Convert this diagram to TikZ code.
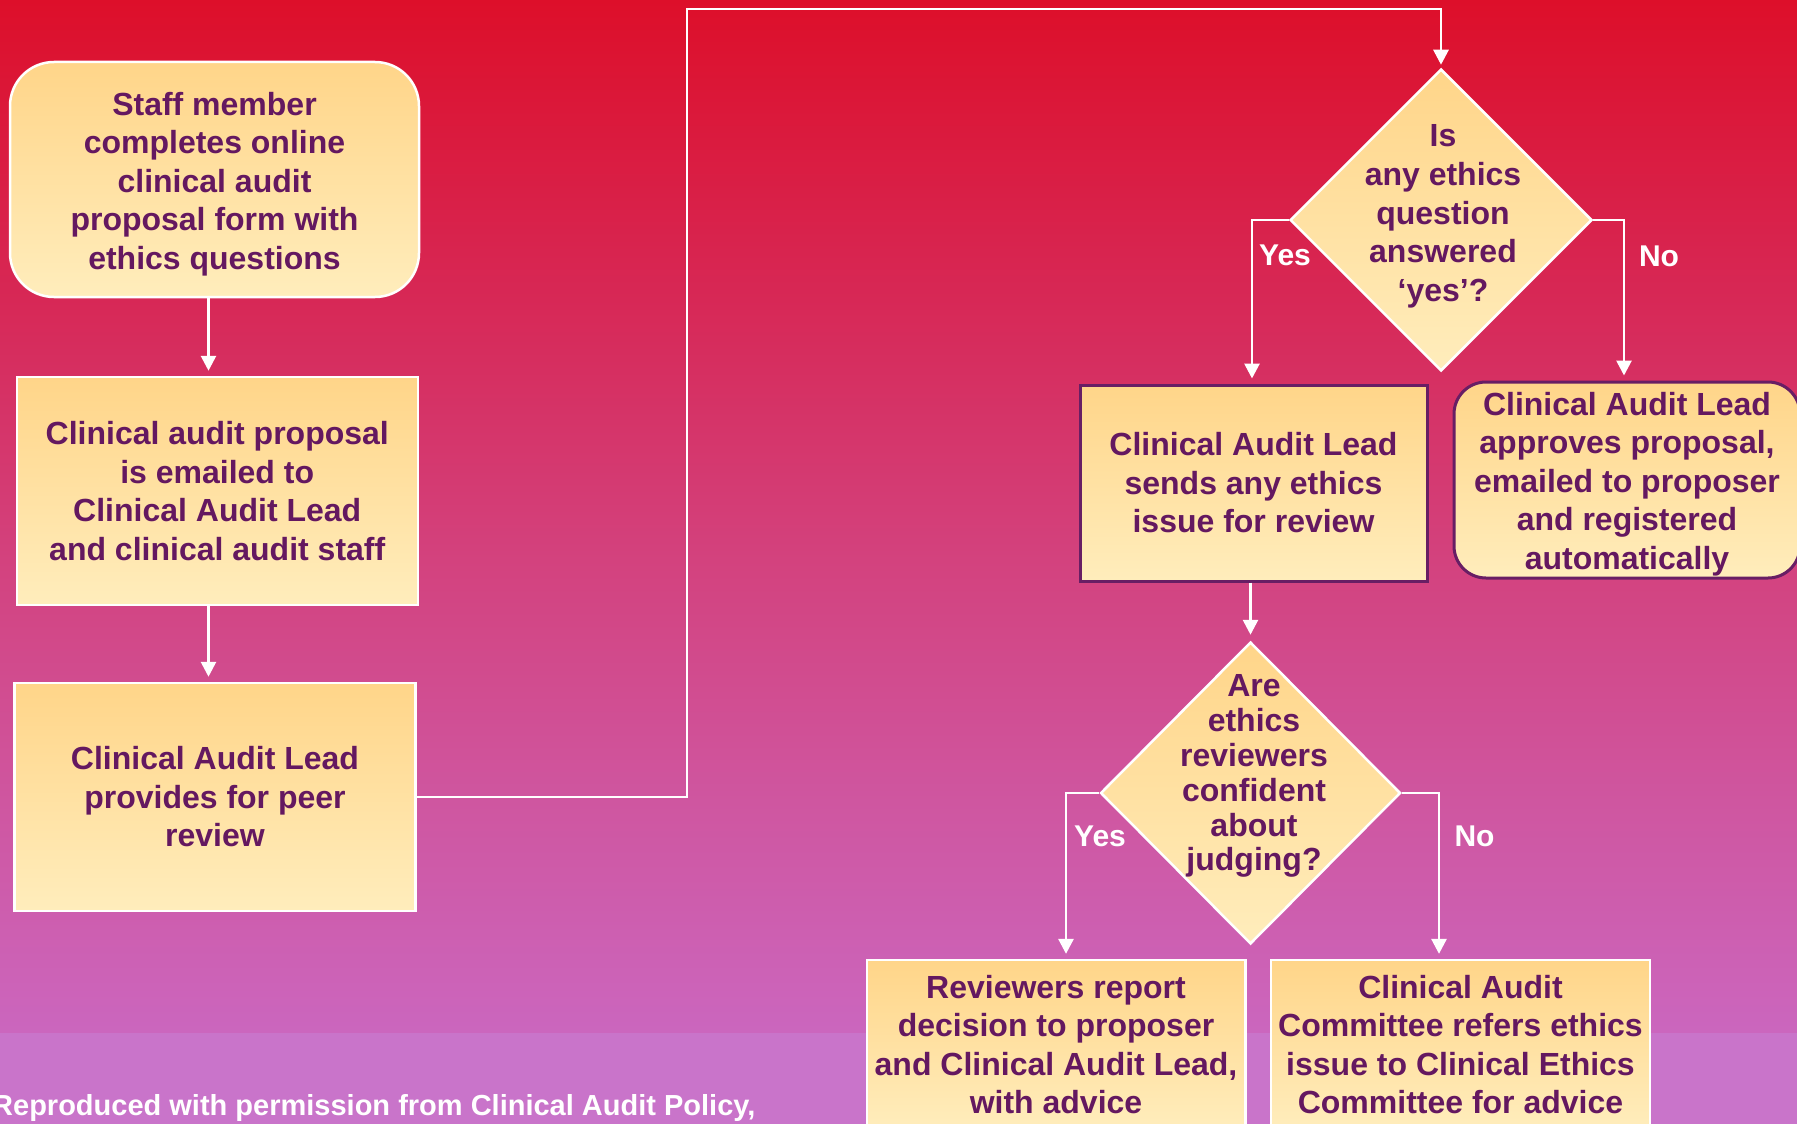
\documentclass[tikz,border=0pt]{standalone}
\usepackage{fontspec}
\setmainfont{Liberation Sans}
\usetikzlibrary{arrows.meta,shapes.geometric,calc}
\definecolor{txt}{RGB}{100,24,96}
\definecolor{purp}{RGB}{104,30,100}
\definecolor{ctop}{RGB}{255,213,137}
\definecolor{cbot}{RGB}{255,237,188}
\definecolor{bgA}{RGB}{221,15,42}
\definecolor{bgB}{RGB}{215,40,86}
\definecolor{bgC}{RGB}{211,66,126}
\definecolor{bgD}{RGB}{207,86,160}
\definecolor{bgE}{RGB}{203,102,190}
\definecolor{band}{RGB}{201,116,202}
% TikZ maps 25bp..75bp of a declared shading onto the path
\pgfdeclareverticalshading{bgshade}{100bp}{color(0bp)=(bgE); color(25bp)=(bgE); color(36.2bp)=(bgD); color(47.9bp)=(bgC); color(60.5bp)=(bgB); color(75bp)=(bgA); color(100bp)=(bgA)}
\tikzset{
  boxw/.style={draw=white, line width=2.5pt, top color=ctop, bottom color=cbot, text=txt,
    font=\fontsize{32}{38.5}\selectfont\bfseries, align=center, inner sep=0pt},
  boxp/.style={boxw, draw=purp, line width=3pt},
  dia/.style={diamond, draw=white, line width=2.5pt, top color=ctop, bottom color=cbot,
    inner sep=0pt, minimum width=302pt, minimum height=302pt},
  diatxt/.style={text=txt, align=center, inner sep=0pt},
  arr/.style={draw=white, line width=2.8pt, -{Triangle[length=15pt,width=15pt]}, shorten >=5pt},
  lbl/.style={text=white, font=\fontsize{30}{36}\selectfont\bfseries, inner sep=0pt},
}
\begin{document}
\begin{tikzpicture}[x=1pt,y=-1pt]
\path[use as bounding box] (0,0) rectangle (1797,1124);
\clip (0,0) rectangle (1797,1124);
% background
\path[shading=bgshade] (0,0) rectangle (1797,1033);
\fill[band] (0,1033) rectangle (1797,1124);

% left column
\node[boxw, rounded corners=44pt, minimum width=409pt, minimum height=235pt] (b1) at (214.5,179.5)
  {\rule{0pt}{32.5pt}Staff member\\completes online\\clinical audit\\proposal form with\\ethics questions};
\node[boxw, minimum width=401pt, minimum height=228pt] (b2) at (217.25,491)
  {Clinical audit proposal\\is emailed to\\Clinical Audit Lead\\and clinical audit staff};
\node[boxw, minimum width=401pt, minimum height=228pt] (b3) at (215,797)
  {Clinical Audit Lead\\provides for peer\\review};

% decision 1
\node[dia] (d1) at (1441,220) {};
\node[diatxt, font=\fontsize{32}{38.7}\selectfont\bfseries] (d1t) at (1443,216.6)
  {Is\\any ethics\\question\\answered\\‘yes’?};

\node[boxp, minimum width=347pt, minimum height=196pt] (b4) at (1253.5,483)
  {Clinical Audit Lead\\sends any ethics\\issue for review};
\node[boxp, rounded corners=32pt, minimum width=346pt, minimum height=196pt] (b5) at (1627,480)
  {\rule{0pt}{31.3pt}Clinical Audit Lead\\approves proposal,\\emailed to proposer\\and registered\\automatically};

% decision 2
\node[dia, minimum width=300pt] (d2) at (1250.5,793) {};
\node[diatxt, font=\fontsize{32}{34.8}\selectfont\bfseries] (d2t) at (1254,776.3)
  {Are\\ethics\\reviewers\\confident\\about\\judging?};

\node[boxw, minimum width=378.5pt, minimum height=169pt] (b6) at (1056,1044.6)
  {Reviewers report\\decision to proposer\\and Clinical Audit Lead,\\with advice};
\node[boxw, minimum width=379pt, minimum height=169pt] (b7) at (1460.5,1044.6)
  {Clinical Audit\\Committee refers ethics\\issue to Clinical Ethics\\Committee for advice};

% connectors
\draw[arr] ([xshift=-6pt]b1.south) -- ([xshift=-6pt]b1.south |- b2.north);
\draw[arr] ([xshift=-8.75pt]b2.south) -- ([xshift=-8.75pt]b2.south |- b3.north);
\coordinate (c1) at (687,9);
\draw[arr, shorten >=3pt] (b3.east) -| (c1) -| (d1.north);
\draw[arr] (d1.west) -| ([xshift=-1.5pt]b4.north);
\draw[arr] (d1.east) -| ([xshift=-3pt]b5.north);
\draw[arr, shorten >=6pt] (b4.south -| d2.north) -- (d2.north);
\draw[arr] (d2.west) -| ([xshift=10pt]b6.north);
\draw[arr] (d2.east) -| ([xshift=-21.5pt]b7.north);

% labels
\node[lbl] (y1) at (1285,255.5) {Yes};
\node[lbl] (n1) at (1659,256.5) {No};
\node[lbl] (y2) at (1100,836.5) {Yes};
\node[lbl] (n2) at (1474.5,836.5) {No};

% footer
\node[anchor=base west, text=white, font=\fontsize{29}{34}\selectfont\bfseries, inner sep=0pt] (foot) at (-8,1115)
  {Reproduced with permission from Clinical Audit Policy,};
\end{tikzpicture}
\end{document}
